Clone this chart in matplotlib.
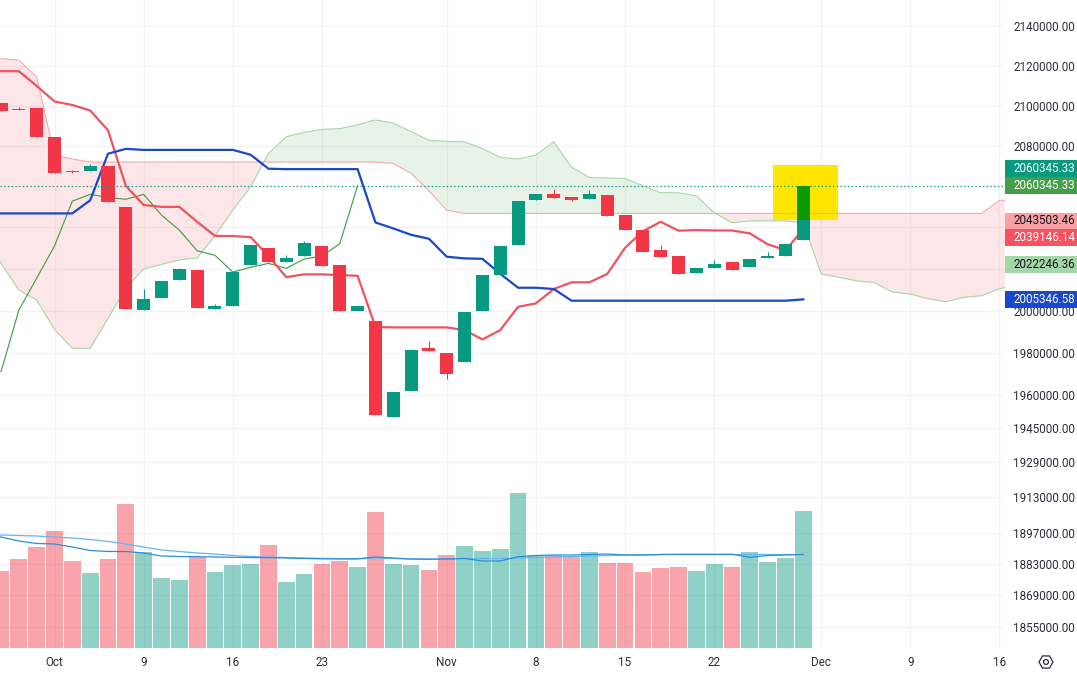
import numpy as np
import matplotlib
matplotlib.use('Agg')
import matplotlib.pyplot as plt
from matplotlib.patches import Rectangle, RegularPolygon, Circle
from matplotlib.ticker import NullLocator, NullFormatter, FixedLocator, FixedFormatter

plt.rcParams['font.family'] = ['Roboto', 'DejaVu Sans']

# candles, first one is session -3 (session 0 is the Oct tick)
opens = [2101400, 2098500, 2098800, 2084300, 2067500, 2067500, 2070000, 2049900, 2000400, 2006100,
         2014700, 2019400, 2000700, 2002300, 2021800, 2030000, 2023400, 2026100, 2031000, 2021800,
         1999900, 1995000, 1950100, 1962200, 1982200, 1979900, 1975800, 1999800, 2017000, 2031400,
         2053300, 2056300, 2054800, 2053800, 2055800, 2046000, 2038700, 2029000, 2026100, 2017900,
         2020300, 2023200, 2020800, 2025200, 2026100, 2033900]
closes = [2097400, 2097800, 2084500, 2066700, 2067000, 2070000, 2052500, 2000900, 2005500, 2014100,
          2019900, 2001300, 2002100, 2018400, 2031400, 2023200, 2025200, 2032400, 2021300, 1999900,
          2002100, 1950900, 1961600, 1981300, 1980800, 1970100, 1999300, 2017000, 2031000, 2052800,
          2056300, 2054300, 2053300, 2056300, 2045500, 2038700, 2028100, 2025600, 2017500, 2020300,
          2022300, 2019400, 2024700, 2026100, 2031900, 2060345]
highs = [2101400, 2099100, 2098800, 2084300, 2068000, 2071000, 2070000, 2049900, 2010300, 2014100,
         2020300, 2019400, 2003100, 2018400, 2031400, 2030000, 2026600, 2033400, 2031000, 2021800,
         2002100, 1995000, 1961600, 1981700, 1985500, 1979900, 1999300, 2017000, 2031000, 2052800,
         2056300, 2058700, 2054800, 2058200, 2055800, 2046000, 2038700, 2031400, 2026100, 2020300,
         2024200, 2023200, 2024700, 2028100, 2031900, 2060345]
lows = [2097400, 2097800, 2084500, 2066700, 2066600, 2067500, 2052500, 2000900, 2000400, 2006100,
        2014700, 2001300, 2000700, 2002300, 2021800, 2023200, 2023400, 2026100, 2021300, 1999900,
        1999900, 1950900, 1950100, 1962200, 1980800, 1967600, 1975800, 1999800, 2017000, 2031400,
        2053300, 2054300, 2052800, 2053800, 2045500, 2038700, 2028100, 2025600, 2017500, 2017900,
        2020300, 2019400, 2020800, 2025200, 2026100, 2033900]

# ichimoku lines, these start one session earlier (-4) so they run off the left edge
conversion = [2117300, 2117300, 2117300, 2109900, 2102100, 2100300, 2097600, 2087700, 2060300, 2050900,
              2050000, 2050000, 2042700, 2035900, 2035800, 2035300, 2026100, 2016000, 2017300, 2017300,
              2017000, 2016600, 1992200, 1992000, 1992000, 1992000, 1992000, 1990700, 1986300, 1990700,
              2001800, 2003400, 2010300, 2013500, 2013500, 2017500, 2030100, 2038200, 2042700, 2038400,
              2038700, 2038500, 2038500, 2037100, 2031800, 2029000, 2039146]
base_line = [2046800, 2046800, 2046800, 2046800, 2046800, 2046800, 2053200, 2076100, 2078500, 2078000,
             2078000, 2078000, 2078000, 2078000, 2078000, 2075600, 2068700, 2068500, 2068500, 2068500,
             2068500, 2068500, 2042400, 2039500, 2036400, 2034500, 2025800, 2025000, 2024800, 2017600,
             2010900, 2010900, 2010300, 2004700, 2004700, 2004700, 2004700, 2004700, 2004700, 2004700,
             2004700, 2004700, 2004700, 2004700, 2004700, 2004700, 2005346]
# lagging span, starts at session -3
lagging = [1971100, 2000200, 2015500, 2031000, 2052800, 2056100, 2054600, 2053700, 2056100, 2046000,
           2038700, 2028700, 2026500, 2018400, 2020700, 2022600, 2020200, 2024700, 2026100, 2032100, 2060345]
# cloud, sessions -4 to 54
span_a = [2035000, 2022700, 2009800, 2005000, 1991100, 1982100, 1982100, 1996300, 2010600, 2019900,
          2022100, 2024300, 2025200, 2035900, 2048400, 2059800, 2076300, 2084500, 2086700, 2088200,
          2088500, 2090400, 2092900, 2091300, 2087000, 2082800, 2082200, 2082000, 2078700, 2074300,
          2073500, 2075400, 2082000, 2069400, 2064400, 2064100, 2063900, 2060300, 2056900, 2056900,
          2055400, 2047100, 2042300, 2043100, 2043200, 2043100, 2042300, 2017500, 2015900, 2014200,
          2013300, 2008800, 2007900, 2005600, 2004200, 2006300, 2007100, 2010400, 2012200]
span_b = [2124000, 2123700, 2122900, 2114400, 2075400, 2073500, 2072000, 2072000, 2072000, 2072000,
          2072000, 2072000, 2072000, 2072000, 2072000, 2072000, 2072000, 2072000, 2072000, 2072000,
          2072000, 2072000, 2072000, 2071300, 2066400, 2057900, 2048400, 2046800, 2046800, 2046800,
          2046800, 2046800, 2046800, 2046800, 2046800, 2046800, 2046800, 2046800, 2046800, 2046800,
          2046800, 2046800, 2046800, 2046800, 2046800, 2046800, 2046800, 2046800, 2046800, 2046800,
          2046800, 2046800, 2046800, 2046800, 2046800, 2046800, 2046800, 2053200, 2053200]

# volume pane in arbitrary units, same sessions as the candles
volume = [77, 89, 101, 117, 87, 75, 89, 144, 96, 70, 68, 91, 76, 83, 84, 103, 66, 74, 84, 87, 81, 136, 84,
          83, 78, 93, 102, 97, 99, 155, 93, 93, 92, 96, 85, 85, 76, 80, 81, 77, 84, 81, 96, 86, 90, 137]
vol_ma_slow = [113, 113, 112.5, 112, 111, 110, 108.5, 106.5, 104, 101, 98, 96.5, 95, 94, 92.5, 91.5, 91,
               90.5, 90, 89.7, 89.5, 89.5, 90, 89.5, 89, 89, 89, 89.5, 89.5, 89.5, 90, 90.5, 91, 91.5,
               92, 92.5, 93, 93, 93.5, 93.5, 93.5, 93.5, 93.5, 93.5, 93.5, 93.5, 93.5]
vol_ma_fast = [113, 111, 107, 104.5, 104, 101, 97.5, 96.5, 96.5, 95, 92, 91.5, 91.3, 91, 90.7, 90.5, 90.3,
               90, 89.5, 89.2, 89, 89, 91, 90, 89, 88.7, 89, 89.5, 87, 87, 91.3, 92.5, 93, 93, 93.5, 94,
               93, 93, 93.5, 93.7, 93.7, 93.7, 93.7, 90.7, 92.5, 93, 93.5]

price_ticks = [2140000, 2120000, 2100000, 2080000, 2060000, 2040000, 2020000, 2000000, 1980000, 1960000,
               1945000, 1929000, 1913000, 1897000, 1883000, 1869000, 1855000]
# these three labels sit behind the price tags in the reference
hidden_ticks = [2060000, 2040000, 2020000]
date_ticks = [0, 5, 10, 15, 22, 27, 32, 37, 43, 48, 53]
date_labels = ['Oct', '9', '16', '23', 'Nov', '8', '15', '22', 'Dec', '9', '16']

last_price = 2060345.33
box_sessions = [40.28, 43.93]
box_prices = [2043600, 2070500]

tag_texts = ['2060345.33', '2060345.33', '2043503.46', '2039146.14', '2022246.36', '2005346.58']
tag_tops = [160, 177, 212.5, 229, 256, 291]
tag_colors = ['#089981', '#43a047', '#faa1a4', '#f7525f', '#a5d6a7', '#1848cc']
tag_text_colors = ['white', 'white', '#131722', 'white', '#131722', 'white']

RED = '#f23645'
TEAL = '#089981'
GRID = '#f0f3f7'
TEXT = '#2a2e39'
FS = 8.4
W, H = 1077, 674
PANE_W, PANE_H = 1005, 648
PRICE_LO, PRICE_HI = 1845600, 2153500

candles = np.arange(len(opens)) - 3
long_x = np.arange(len(conversion)) - 4
cloud_x = np.arange(len(span_a)) - 4
opens_a, closes_a = np.array(opens, float), np.array(closes, float)
a, b = np.array(span_a, float), np.array(span_b, float)

fig = plt.figure(figsize=(W / 100, H / 100), dpi=100, facecolor='white')
rect = [0, (H - PANE_H) / H, PANE_W / W, PANE_H / H]
ax_vol = fig.add_axes(rect)
ax = ax_vol.twinx()
ax_vol.set_zorder(1)
ax.set_zorder(2)
ax.patch.set_visible(False)

# volume pane underneath, it also carries the grid so the bars tint it
colors = [TEAL if c >= o else RED for o, c in zip(opens, closes)]
ax_vol.bar(candles, volume, width=0.94, color=colors, alpha=0.45, linewidth=0, zorder=2)
ax_vol.plot(long_x, vol_ma_slow, color='#64b5f6', lw=0.9, zorder=3)
ax_vol.plot(long_x, vol_ma_fast, color='#2b8fd8', lw=0.9, zorder=3)
ax_vol.set_ylim(0, PANE_H)
ax_vol.set_xlim(-3.057, 53.31)
grid_y = (np.log(price_ticks) - np.log(PRICE_LO)) / (np.log(PRICE_HI) - np.log(PRICE_LO)) * PANE_H
ax_vol.set_yticks(grid_y)
ax_vol.set_yticklabels([])
ax_vol.set_xticks(date_ticks)
ax_vol.set_xticklabels(date_labels, fontsize=FS, color=TEXT)
ax_vol.tick_params(axis='both', length=0)
ax_vol.tick_params(axis='x', pad=6)
ax_vol.grid(True, color=GRID, lw=0.9, zorder=0)
ax_vol.set_axisbelow(True)
for s in ax_vol.spines.values():
    s.set_visible(False)

# price pane, log scale
ax.set_yscale('log')
ax.set_ylim(PRICE_LO, PRICE_HI)
ax.set_xlim(-3.057, 53.31)
ax.yaxis.set_major_locator(FixedLocator(price_ticks))
ax.yaxis.set_major_formatter(FixedFormatter(['' if p in hidden_ticks else '%.2f' % p for p in price_ticks]))
ax.yaxis.set_minor_locator(NullLocator())
ax.yaxis.set_minor_formatter(NullFormatter())
ax.yaxis.tick_right()
ax.tick_params(axis='y', length=0, pad=5.8, labelsize=FS, labelcolor=TEXT)
ax.tick_params(axis='x', length=0, labelbottom=False)
for s in ax.spines.values():
    s.set_visible(False)

# cloud
ax.fill_between(cloud_x, a, b, where=a >= b, interpolate=True, color='#43a047', alpha=0.12, lw=0, zorder=1)
ax.fill_between(cloud_x, a, b, where=a < b, interpolate=True, color=RED, alpha=0.12, lw=0, zorder=1)

# yellow highlight goes over the cloud fill but under the lines
ax.add_patch(Rectangle((box_sessions[0], box_prices[0]), box_sessions[1] - box_sessions[0],
                       box_prices[1] - box_prices[0], facecolor='#ffe600', edgecolor='none', zorder=1.5))

ax.plot(cloud_x, span_a, color='#a5d6a7', lw=0.8, zorder=2)
ax.plot(cloud_x, span_b, color='#f7a9ae', lw=0.8, zorder=2)
ax.plot(np.arange(len(lagging)) - 3, lagging, color='#43a047', lw=0.85, zorder=2.2)
ax.plot(long_x, conversion, color='#ef5360', lw=1.6, zorder=2.4)
ax.plot(long_x, base_line, color='#1848cc', lw=1.6, zorder=2.5)

# candles
ax.vlines(candles, lows, highs, colors=colors, lw=0.8, zorder=3)
ax.bar(candles, np.abs(closes_a - opens_a), bottom=np.minimum(opens_a, closes_a), width=0.73,
       color=colors, linewidth=0, zorder=3.1)
# last candle reads darker green where it sits in the yellow box
ax.bar(candles[-1], closes[-1] - box_prices[0], bottom=box_prices[0], width=0.73, color='#0a9a00',
       linewidth=0, zorder=3.2)

ax.axhline(last_price, color=TEAL, lw=0.9, ls=(0, (1, 2)), zorder=4)

# price tags on the right scale
for txt, top, col, tcol in zip(tag_texts, tag_tops, tag_colors, tag_text_colors):
    fig.add_artist(Rectangle((PANE_W / W, 1 - (top + 16.7) / H), (W - PANE_W) / W, 16.7 / H,
                             transform=fig.transFigure, facecolor=col, edgecolor='none', zorder=5))
    fig.text(1013 / W, 1 - (top + 8.3) / H, txt, color=tcol, fontsize=FS, va='center', ha='left', zorder=6)

# settings gear, drawn in pixels
fig.add_artist(RegularPolygon((1046, H - 662), 6, radius=7, orientation=np.pi / 6, facecolor='none',
                              edgecolor=TEXT, lw=0.9, transform=None, zorder=5))
fig.add_artist(Circle((1046, H - 662), 2.4, facecolor='none', edgecolor=TEXT, lw=0.9, transform=None, zorder=5))

fig.savefig('out.png', dpi=100)
